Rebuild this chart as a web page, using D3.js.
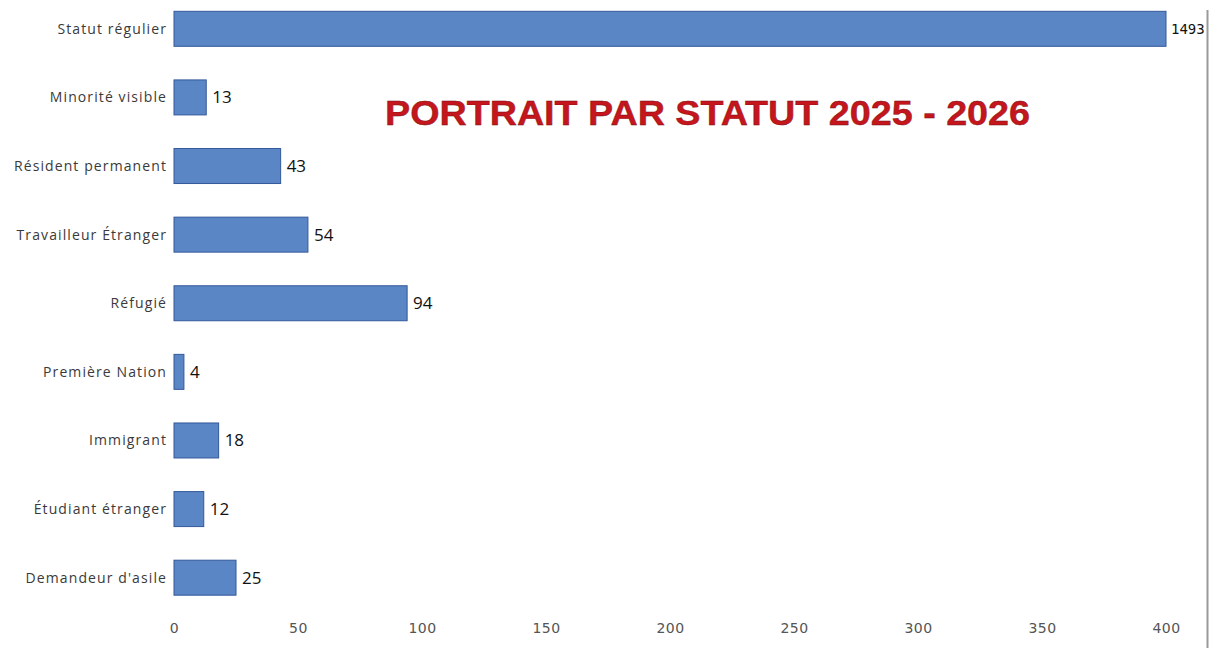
<!DOCTYPE html>
<html><head><meta charset="utf-8">
<script src="https://cdn.jsdelivr.net/npm/d3@7"></script>
<style>body{margin:0;background:#fff;} svg{display:block;}</style>
</head><body><svg id="c" width="1212" height="648"></svg>
<script>
const categories = ["Statut régulier","Minorité visible","Résident permanent","Travailleur Étranger","Réfugié","Première Nation","Immigrant","Étudiant étranger","Demandeur d'asile"];
const values = [1493,13,43,54,94,4,18,12,25];
const xTicks = [0,50,100,150,200,250,300,350,400];
const title = "PORTRAIT PAR STATUT 2025 - 2026";

const svg = d3.select("#c");
const x = d3.scaleLinear().domain([0,400]).range([174,1166]).clamp(true);
const y = d3.scaleBand().domain(categories).range([-5.5,612]).paddingInner(0.49).paddingOuter(0.245);

// bars
svg.append("g").selectAll("rect").data(values).join("rect")
  .attr("x", x(0)).attr("y",(d,i)=>y(categories[i]))
  .attr("width", d=>x(d)-x(0)).attr("height", y.bandwidth())
  .attr("fill","#5a86c6").attr("stroke","#34589a").attr("stroke-width",1);

// value labels
svg.append("g").selectAll("text").data(values).join("text")
  .attr("x", d=>x(d)+ (d>400?5:6)).attr("y",(d,i)=>y(categories[i])+y.bandwidth()/2)
  .attr("dy","0.35em")
  .attr("font-family", d=> d>400 ? "DejaVu Sans Mono, monospace" : "Open Sans, DejaVu Sans, sans-serif")
  .attr("font-size", d=> d>400 ? 14 : 17)
  .attr("fill", "#111")
  .text(d=>d);

// category labels
svg.append("g").selectAll("text").data(categories).join("text")
  .attr("x", 167).attr("y", d=>y(d)+y.bandwidth()/2).attr("dy","0.35em")
  .attr("text-anchor","end").attr("font-family","Open Sans, sans-serif").attr("font-size",14)
  .attr("letter-spacing","1.1px")
  .attr("fill","#3a3a3a").text(d=>d);

// x axis (labels only)
const ax = svg.append("g").attr("transform","translate(0,633)")
  .call(d3.axisBottom(x).tickValues(xTicks).tickSize(0).tickPadding(0));
ax.select(".domain").remove();
ax.selectAll("text").attr("font-family","DejaVu Sans, sans-serif").attr("font-size",14)
  .attr("letter-spacing","0.5px").attr("fill","#555").attr("dy","0");

// title
svg.append("text").attr("x",385).attr("y",125)
  .attr("font-family","Liberation Sans, Arial, sans-serif").attr("font-weight","bold")
  .attr("font-size",35).attr("fill","#c4161c").attr("stroke","#7a0d10").attr("stroke-width",0.4)
  .attr("textLength",645).attr("lengthAdjust","spacingAndGlyphs")
  .text(title);

// scanned right border
svg.append("rect").attr("x",1205).attr("y",0).attr("width",7).attr("height",648).attr("fill","#fff");
svg.append("line").attr("x1",1207.5).attr("x2",1207.5).attr("y1",10).attr("y2",648).attr("stroke","#9a9a9a").attr("stroke-width",2);
</script></body></html>
